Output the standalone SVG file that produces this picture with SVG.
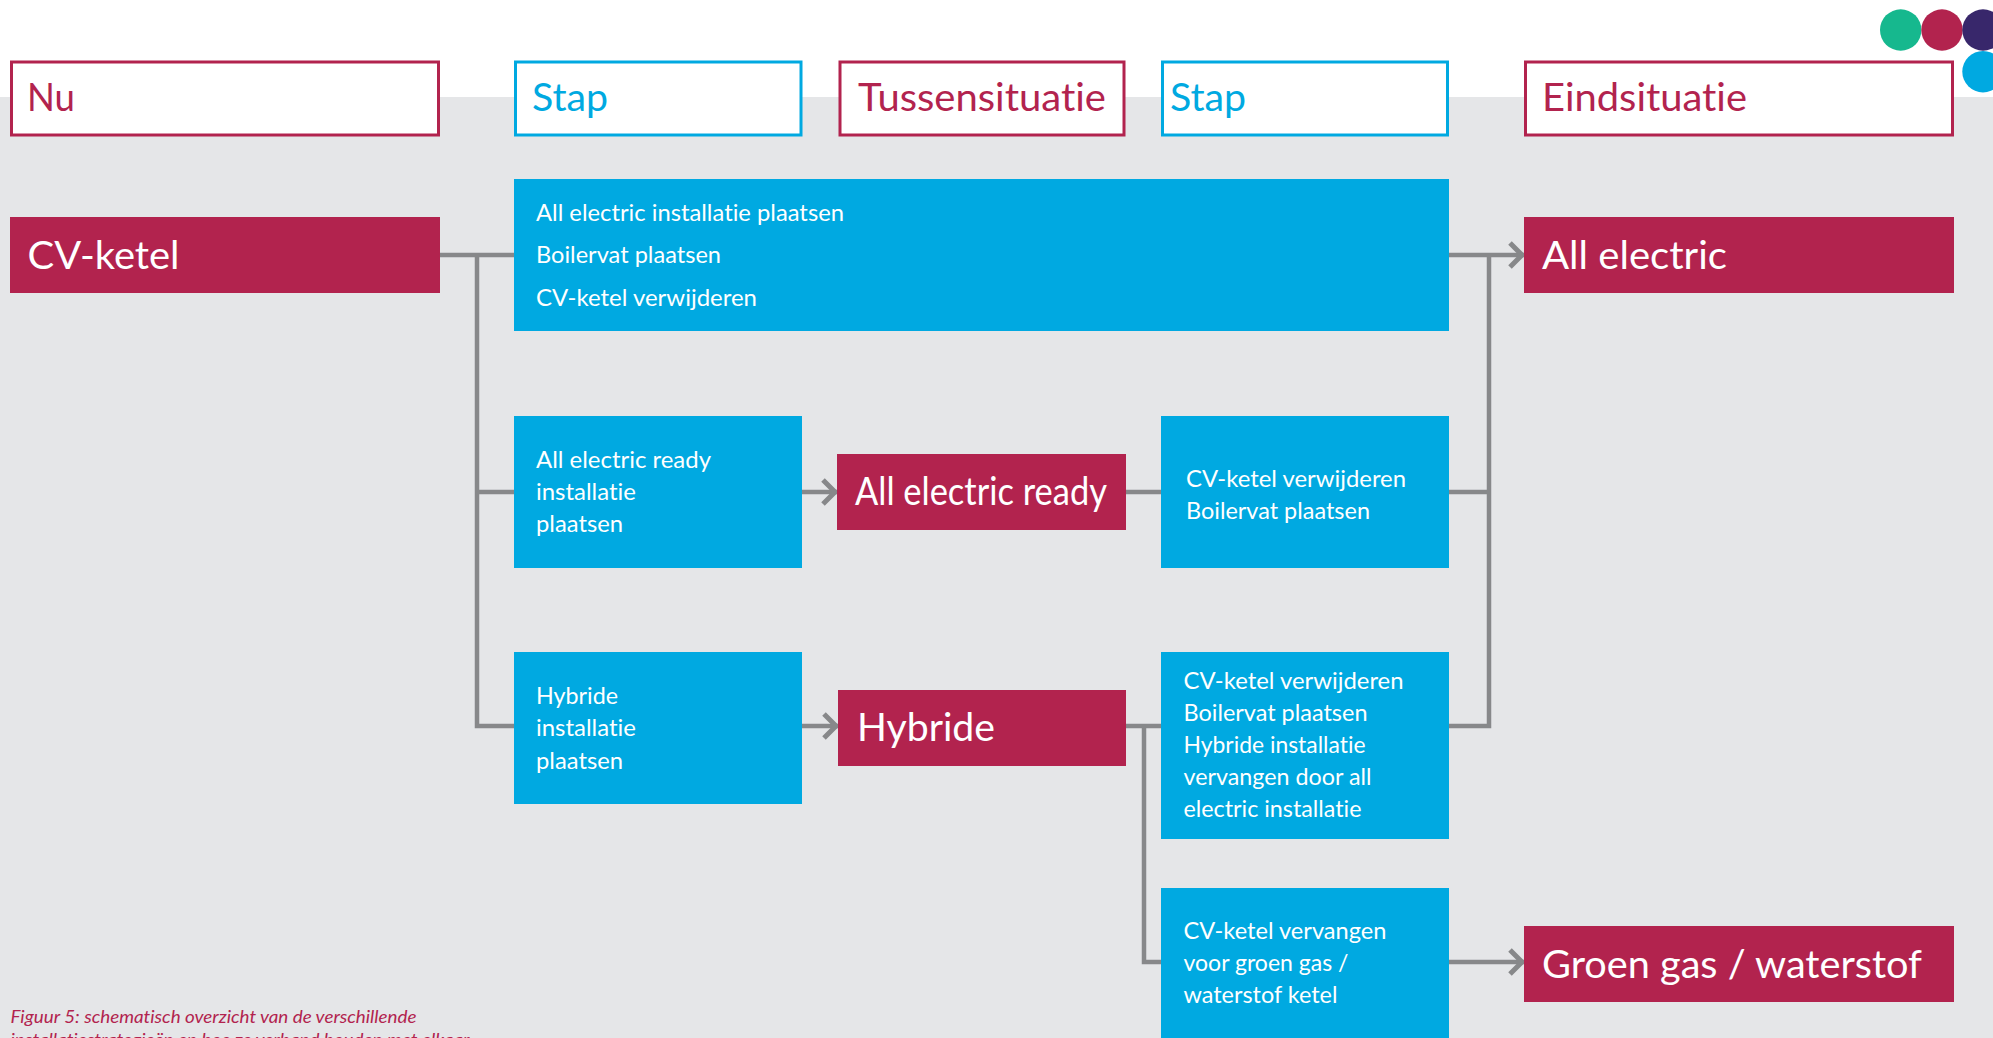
<svg xmlns="http://www.w3.org/2000/svg" width="1993" height="1038" viewBox="0 0 1993 1038">
<style>
text{font-family:"Lato","Noto Sans",sans-serif;font-variant-ligatures:none}
.red{fill:#b2234e}.blue{fill:#00a9e1}
.hr{fill:#fff;stroke:#b2234e;stroke-width:3}.hb{fill:#fff;stroke:#00a9e1;stroke-width:3}
.t1{font-size:38px;fill:#b2234e}.t2{font-size:38px;fill:#00a9e1}.t3{font-size:39px;fill:#fff}.t4{font-size:23.5px;fill:#fff}
.cap{font-size:17.5px;font-style:italic;fill:#b2234e}
.c{fill:none;stroke:#87888a;stroke-width:4.5}
.a{marker-end:url(#arrow)}
</style>
<defs><marker id="arrow" markerUnits="userSpaceOnUse" markerWidth="20" markerHeight="30" refX="16" refY="15" orient="auto" viewBox="0 0 20 30"><path d="M2 3L14 15L2 27" fill="none" stroke="#87888a" stroke-width="5"/></marker></defs>
<rect width="1993" height="1038" fill="#fff"/>
<rect id="background" y="97" width="1993" height="941" fill="#e5e6e8"/>
<g id="dots"><circle cx="1900.700" cy="30" r="20.700" fill="#16b88e"/><circle cx="1942" cy="30" r="20.700" fill="#b2234e"/><circle cx="1983" cy="30" r="20.700" fill="#38276b"/><circle cx="1983" cy="71.700" r="20.700" fill="#00a9e1"/></g>
<g id="connectors">
<path class="c" d="M440 255H514M477 255V726H514M477 492H514"/>
<path class="c a" d="M1449 255H1524"/>
<path class="c a" d="M802 492H837"/>
<path class="c a" d="M802 726H838"/>
<path class="c" d="M1126 492H1161M1449 492H1489M1449 726H1489V255"/>
<path class="c" d="M1126 726H1161M1144 726V962H1161"/>
<path class="c a" d="M1449 962H1524"/>
</g>
<g id="h-nu"><rect class="hr" x="11.500" y="62" width="427" height="73"/><text class="t1" x="27" y="111" textLength="48" lengthAdjust="spacingAndGlyphs">Nu</text></g>
<g id="h-stap1"><rect class="hb" x="515.500" y="62" width="285.500" height="73"/><text class="t2" x="532" y="111" textLength="76" lengthAdjust="spacingAndGlyphs">Stap</text></g>
<g id="h-tussen"><rect class="hr" x="840" y="62" width="284" height="73"/><text class="t1" x="858" y="111" textLength="248" lengthAdjust="spacingAndGlyphs">Tussensituatie</text></g>
<g id="h-stap2"><rect class="hb" x="1162.500" y="62" width="285" height="73"/><text class="t2" x="1170" y="111" textLength="76" lengthAdjust="spacingAndGlyphs">Stap</text></g>
<g id="h-eind"><rect class="hr" x="1525.500" y="62" width="427" height="73"/><text class="t1" x="1542" y="111" textLength="205" lengthAdjust="spacingAndGlyphs">Eindsituatie</text></g>
<g id="n-cv"><rect class="red" x="10" y="217" width="430" height="76"/><text class="t3" x="27.500" y="269" textLength="152" lengthAdjust="spacingAndGlyphs">CV-ketel</text></g>
<g id="n-step-all"><rect class="blue" x="514" y="179" width="935" height="152"/>
<text class="t4" x="536" y="220.500" textLength="308" lengthAdjust="spacingAndGlyphs">All electric installatie plaatsen</text>
<text class="t4" x="536" y="262.500" textLength="185" lengthAdjust="spacingAndGlyphs">Boilervat plaatsen</text>
<text class="t4" x="536" y="305.500" textLength="221" lengthAdjust="spacingAndGlyphs">CV-ketel verwijderen</text></g>
<g id="n-all-electric"><rect class="red" x="1524" y="217" width="430" height="76"/><text class="t3" x="1542" y="269" textLength="185" lengthAdjust="spacingAndGlyphs">All electric</text></g>
<g id="n-step-ready"><rect class="blue" x="514" y="416" width="288" height="152"/>
<text class="t4" x="536" y="467.500" textLength="175" lengthAdjust="spacingAndGlyphs">All electric ready</text>
<text class="t4" x="536" y="499.500" textLength="100" lengthAdjust="spacingAndGlyphs">installatie</text>
<text class="t4" x="536" y="531.500" textLength="87" lengthAdjust="spacingAndGlyphs">plaatsen</text></g>
<g id="n-ready"><rect class="red" x="837" y="454" width="289" height="76"/><text class="t3" x="855" y="505" textLength="252" lengthAdjust="spacingAndGlyphs">All electric ready</text></g>
<g id="n-step-ready2"><rect class="blue" x="1161" y="416" width="288" height="152"/>
<text class="t4" x="1186" y="486.500" textLength="220" lengthAdjust="spacingAndGlyphs">CV-ketel verwijderen</text>
<text class="t4" x="1186" y="518.500" textLength="184" lengthAdjust="spacingAndGlyphs">Boilervat plaatsen</text></g>
<g id="n-step-hybrid"><rect class="blue" x="514" y="652" width="288" height="152"/>
<text class="t4" x="536" y="703.500" textLength="82" lengthAdjust="spacingAndGlyphs">Hybride</text>
<text class="t4" x="536" y="736" textLength="100" lengthAdjust="spacingAndGlyphs">installatie</text>
<text class="t4" x="536" y="768.500" textLength="87" lengthAdjust="spacingAndGlyphs">plaatsen</text></g>
<g id="n-hybrid"><rect class="red" x="838" y="690" width="288" height="76"/><text class="t3" x="857" y="741" textLength="138" lengthAdjust="spacingAndGlyphs">Hybride</text></g>
<g id="n-step-hybrid2"><rect class="blue" x="1161" y="652" width="288" height="187"/>
<text class="t4" x="1183.500" y="688.500" textLength="220" lengthAdjust="spacingAndGlyphs">CV-ketel verwijderen</text>
<text class="t4" x="1183.500" y="720.500" textLength="184" lengthAdjust="spacingAndGlyphs">Boilervat plaatsen</text>
<text class="t4" x="1183.500" y="752.500" textLength="182" lengthAdjust="spacingAndGlyphs">Hybride installatie</text>
<text class="t4" x="1183.500" y="784.500" textLength="188" lengthAdjust="spacingAndGlyphs">vervangen door all</text>
<text class="t4" x="1183.500" y="816.500" textLength="178" lengthAdjust="spacingAndGlyphs">electric installatie</text></g>
<g id="n-step-gas"><rect class="blue" x="1161" y="888" width="288" height="150"/>
<text class="t4" x="1183.500" y="938.500" textLength="203" lengthAdjust="spacingAndGlyphs">CV-ketel vervangen</text>
<text class="t4" x="1183.500" y="970.500" textLength="165" lengthAdjust="spacingAndGlyphs">voor groen gas /</text>
<text class="t4" x="1183.500" y="1002.500" textLength="154" lengthAdjust="spacingAndGlyphs">waterstof ketel</text></g>
<g id="n-gas"><rect class="red" x="1524" y="926" width="430" height="76"/><text class="t3" x="1542" y="978" textLength="380" lengthAdjust="spacingAndGlyphs">Groen gas / waterstof</text></g>
<g id="caption"><text class="cap" x="10.500" y="1022.500" textLength="406" lengthAdjust="spacingAndGlyphs">Figuur 5: schematisch overzicht van de verschillende</text>
<text class="cap" x="10.500" y="1045.500" textLength="459" lengthAdjust="spacingAndGlyphs">installatiestrategieën en hoe ze verband houden met elkaar</text></g>
</svg>
